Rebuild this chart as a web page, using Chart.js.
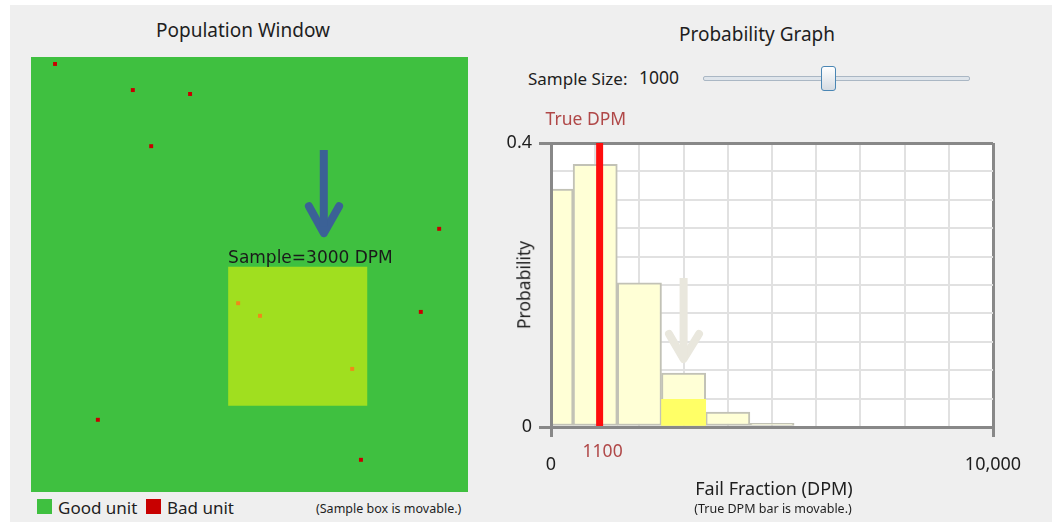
<!DOCTYPE html>
<html>
<head>
<meta charset="utf-8">
<script src="https://cdn.jsdelivr.net/npm/chart.js@4.4.1/dist/chart.umd.min.js"></script>
<style>
  body { margin:0; width:1055px; height:522px; overflow:hidden; background:#fff; font-family:"Noto Sans", sans-serif; color:#1e1e1e; }
  #panel { position:absolute; left:10px; top:5px; width:1042px; height:517px; background:#efefef; }
  canvas { position:absolute; }
  #pop { left:31px; top:57px; }
  #prob { left:490px; top:100px; }
  .lbl { position:absolute; line-height:1; white-space:nowrap; }
  .sw { position:absolute; width:15px; height:15px; }
  #track { position:absolute; left:703px; top:76px; width:265px; height:3px; border:1px solid #aab7c4; border-radius:2px; background:#dfe5eb; }
  #thumb { position:absolute; left:821px; top:66px; width:13px; height:23px; border:1px solid #4a86b4; border-radius:3px; background:linear-gradient(#ffffff, #d5dbe2); }
</style>
</head>
<body>
<div id="panel"></div>
<canvas id="pop" width="437" height="435"></canvas>
<canvas id="prob" width="560" height="420"></canvas>
<div id="track"></div>
<div id="thumb"></div>
<div class="sw" style="left:37px; top:499px; background:#3fc040;"></div>
<div class="sw" style="left:146px; top:499px; background:#c80000;"></div>
<script>
// population window, units 0..100 across and up
const badX = [5.5, 23.3, 36.4, 27.5, 93.4, 89.2, 15.3, 75.5];
const badY = [98.4, 92.4, 91.5, 79.5, 60.5, 41.4, 16.6, 7.4];
const sampledBadX = [47.4, 52.4, 73.5];
const sampledBadY = [43.4, 40.5, 28.3];
const sampleBoxX = [45.1, 77.0];
const sampleBoxY = [19.8, 51.8];
const sampleText = "Sample=3000 DPM";
const popShaftX = [67.0, 67.0];
const popShaftY = [78.6, 61.0];
const popHeadX = [63.6, 67.0, 70.5];
const popHeadY = [65.7, 59.5, 65.7];

// probability graph
const binDpm = [0, 1000, 2000, 3000, 4000, 5000];
const binProb = [0.335, 0.370, 0.203, 0.076, 0.021, 0.005];
const sampleBin = [3000];
const sampleProb = [0.039];
const trueDpm = 1100;
const xLabelled = [0, 10000];
const xLabelText = ["0", "10,000"];
const yLabelled = [0, 0.4];
const yLabelText = ["0", "0.4"];
const graphShaftX = [3000, 3000];
const graphShaftY = [0.21, 0.10];
const graphHeadX = [2670, 3000, 3348];
const graphHeadY = [0.131, 0.0958, 0.131];

const pts = (xs, ys) => xs.map((x, i) => ({ x: x, y: ys[i] }));
const near = (v, arr) => arr.findIndex(a => Math.abs(a - v) < 1e-6);

Chart.defaults.font.family = '"Noto Sans", sans-serif';
Chart.defaults.color = '#1e1e1e';

function put(text, x, y, size, how, extra) {
  const d = document.createElement('div');
  d.className = 'lbl';
  d.textContent = text;
  d.style.left = x + 'px'; d.style.top = y + 'px'; d.style.fontSize = size + 'px';
  d.style.transform = how === 'left' ? 'translate(0,-50%)' : how === 'rot' ? 'translate(-50%,-50%) rotate(-90deg)' : 'translate(-50%,-50%)';
  Object.assign(d.style, extra || {});
  document.body.appendChild(d);
}
put("Population Window", 243, 30, 19);
put("Probability Graph", 757, 34, 19);
put("Sample Size:", 528, 78, 17, 'left');
put("1000", 639, 78, 17.5, 'left');
put("Good unit", 58, 507, 17, 'left');
put("Bad unit", 167, 507, 17, 'left');
put("(Sample box is movable.)", 316, 509, 12.5, 'left');
put("Fail Fraction (DPM)", 774, 488, 18);
put("(True DPM bar is movable.)", 773, 509, 12.5);
put("Probability", 524, 285, 17.5, 'rot');

const greenField = {
  id: 'greenField',
  beforeDraw(c) {
    const a = c.chartArea, ctx = c.ctx;
    ctx.save(); ctx.fillStyle = '#3fc040'; ctx.fillRect(a.left, a.top, a.right - a.left, a.bottom - a.top); ctx.restore();
  },
  afterDatasetsDraw(c) {
    const ctx = c.ctx;
    ctx.save();
    ctx.font = '17px "DejaVu Sans"';
    ctx.fillStyle = '#1a1a1a';
    ctx.textBaseline = 'alphabetic';
    ctx.fillText(sampleText, c.scales.x.getPixelForValue(sampleBoxX[0]), c.scales.y.getPixelForValue(sampleBoxY[1]) - 4);
    ctx.restore();
  }
};

new Chart(document.getElementById('pop'), {
  type: 'scatter',
  data: { datasets: [
    { type: 'line', data: pts(popShaftX, popShaftY), borderColor: '#3b6196', borderWidth: 8, borderCapStyle: 'butt', pointRadius: 0 },
    { type: 'line', data: pts(popHeadX, popHeadY), borderColor: '#3b6196', borderWidth: 8, borderCapStyle: 'round', borderJoinStyle: 'round', pointRadius: 0 },
    { data: pts(sampledBadX, sampledBadY), pointStyle: 'rect', pointRadius: 2.8, backgroundColor: '#ee8a1a', borderWidth: 0 },
    { data: pts(badX, badY), pointStyle: 'rect', pointRadius: 2.8, backgroundColor: '#c80000', borderWidth: 0 },
    { type: 'line', data: pts(sampleBoxX, [sampleBoxY[1], sampleBoxY[1]]), fill: { value: sampleBoxY[0] },
      backgroundColor: '#a0df1f', borderColor: 'rgba(0,0,0,0)', borderWidth: 0, pointRadius: 0 }
  ]},
  options: {
    responsive: false, animation: false, events: [],
    layout: { padding: 0, autoPadding: false },
    plugins: { legend: { display: false }, tooltip: { enabled: false } },
    scales: {
      x: { type: 'linear', min: 0, max: 100, display: false },
      y: { type: 'linear', min: 0, max: 100, display: false }
    }
  },
  plugins: [greenField]
});

const edgeX = v => v === xLabelled[0] || v === xLabelled[1];
const edgeY = v => near(v, yLabelled) >= 0;

const graphDeco = {
  id: 'graphDeco',
  beforeDraw(c) {
    const a = c.chartArea, ctx = c.ctx;
    ctx.save(); ctx.fillStyle = '#ffffff'; ctx.fillRect(a.left, a.top, a.right - a.left, a.bottom - a.top); ctx.restore();
  },
  afterDraw(c) {
    const ctx = c.ctx, px = c.scales.x.getPixelForValue(trueDpm);
    ctx.save();
    ctx.fillStyle = '#b04848';
    ctx.font = '17.5px "Noto Sans"';
    ctx.textBaseline = 'middle';
    ctx.textAlign = 'left';
    ctx.fillText('True DPM', px - 54, 20);
    ctx.textAlign = 'center';
    ctx.fillText(String(trueDpm), px + 3, 352);
    ctx.restore();
  }
};

new Chart(document.getElementById('prob'), {
  type: 'bar',
  data: { datasets: [
    { type: 'line', data: [{ x: trueDpm, y: 0 }, { x: trueDpm, y: 0.4 }], borderColor: '#ff0d0d', borderWidth: 7, pointRadius: 0, order: 0 },
    { type: 'line', data: pts(graphShaftX, graphShaftY), borderColor: '#e9e7dd', borderWidth: 8, borderCapStyle: 'butt', pointRadius: 0, order: 1 },
    { type: 'line', data: pts(graphHeadX, graphHeadY), borderColor: '#e9e7dd', borderWidth: 8, borderCapStyle: 'round', borderJoinStyle: 'round', pointRadius: 0, order: 2 },
    { data: pts(sampleBin, sampleProb), backgroundColor: '#ffff66', borderWidth: 0, grouped: false, barPercentage: 1, categoryPercentage: 1, order: 3 },
    { data: pts(binDpm, binProb), backgroundColor: '#ffffd6', borderColor: '#c2c2b6', borderWidth: 2, borderSkipped: false,
      grouped: false, barPercentage: 1, categoryPercentage: 1, order: 4 }
  ]},
  options: {
    responsive: false, animation: false, events: [],
    layout: { padding: { top: 43, right: 57, left: 0, bottom: 0 } },
    plugins: { legend: { display: false }, tooltip: { enabled: false } },
    scales: {
      x: {
        type: 'linear', min: 0, max: 10000, offset: false,
        afterFit: s => { s.height = 93; },
        grid: {
          offset: false, tickLength: 10, tickWidth: 3,
          color: ctx => ctx.tick && edgeX(ctx.tick.value) ? '#888888' : '#e1e1e1',
          lineWidth: ctx => ctx.tick && edgeX(ctx.tick.value) ? 3 : 2,
          tickColor: ctx => ctx.tick && edgeX(ctx.tick.value) ? '#888888' : 'rgba(0,0,0,0)'
        },
        border: { color: '#888888', width: 3, z: 1 },
        ticks: {
          stepSize: 1000, autoSkip: false, maxRotation: 0, padding: 17,
          font: { size: 18 },
          callback: v => { const i = xLabelled.indexOf(v); return i >= 0 ? xLabelText[i] : ''; }
        }
      },
      y: {
        min: 0, max: 0.4,
        afterFit: s => { s.width = 61; },
        grid: {
          tickLength: 12, tickWidth: 3,
          color: ctx => ctx.tick && edgeY(ctx.tick.value) ? '#888888' : '#e1e1e1',
          lineWidth: ctx => ctx.tick && edgeY(ctx.tick.value) ? 3 : 2,
          tickColor: ctx => ctx.tick && edgeY(ctx.tick.value) ? '#888888' : 'rgba(0,0,0,0)'
        },
        border: { color: '#888888', width: 3, z: 1 },
        ticks: {
          stepSize: 0.04, padding: 7, font: { size: 18 },
          callback: v => { const i = near(v, yLabelled); return i >= 0 ? yLabelText[i] : ''; }
        }
      }
    }
  },
  plugins: [graphDeco]
});
</script>
</body>
</html>
